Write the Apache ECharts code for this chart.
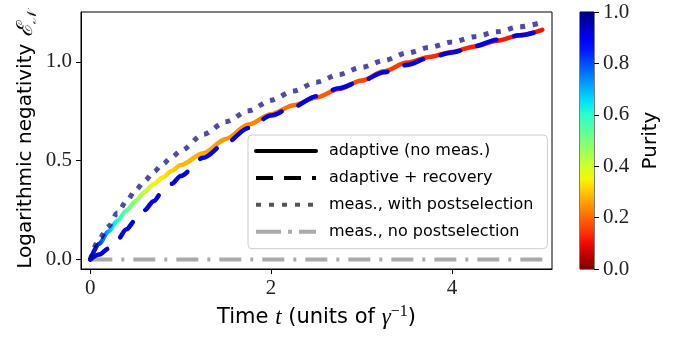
<!DOCTYPE html>
<html>
<head>
<meta charset="utf-8">
<script src="https://cdn.jsdelivr.net/npm/echarts@6/dist/echarts.min.js"></script>
<style>
  html, body { margin: 0; padding: 0; background: #fff; }
  #c { width: 690px; height: 338px; }
</style>
</head>
<body>
<div id="c"></div>
<script>
// time grid (units of 1/gamma)
const times = [0, 0.1, 0.2, 0.3, 0.4, 0.5, 0.6, 0.7, 0.8, 0.9, 1.0, 1.25, 1.5, 1.75,
  2.0, 2.25, 2.5, 2.75, 3.0, 3.25, 3.5, 3.75, 4.0, 4.25, 4.5, 4.75, 5.0];
// adaptive (no meas.)
const adaptive = [0, 0.08, 0.142, 0.196, 0.248, 0.295, 0.342, 0.382, 0.415, 0.448, 0.478, 0.538, 0.61, 0.683,
  0.735, 0.78, 0.82, 0.862, 0.905, 0.952, 0.996, 1.025, 1.05, 1.078, 1.107, 1.135, 1.162];
// purity along the adaptive curve (colour of the solid line)
const purity = [1.0, 0.85, 0.73, 0.63, 0.55, 0.49, 0.43, 0.38, 0.34, 0.31, 0.29, 0.27, 0.25, 0.235,
  0.22, 0.205, 0.19, 0.178, 0.165, 0.155, 0.145, 0.135, 0.127, 0.12, 0.115, 0.11, 0.105];
// adaptive + recovery
const recovery = [0, 0.025, 0.055, 0.1, 0.153, 0.2, 0.25, 0.295, 0.345, 0.383, 0.423, 0.515, 0.59, 0.665,
  0.728, 0.773, 0.826, 0.866, 0.903, 0.947, 0.984, 1.02, 1.047, 1.08, 1.112, 1.134, 1.16];
// meas., with postselection
const postsel = [0, 0.105, 0.167, 0.235, 0.295, 0.35, 0.397, 0.443, 0.483, 0.518, 0.55, 0.633, 0.697, 0.752,
  0.806, 0.853, 0.897, 0.936, 0.972, 1.007, 1.044, 1.073, 1.1, 1.127, 1.152, 1.177, 1.2];
// meas., no postselection
const noPostselTimes = [0, 5];
const noPostsel = [0, 0];

const xTicks = [0, 2, 4];
const yTicks = [0, 0.5, 1.0];
const legendNames = ['adaptive (no meas.)', 'adaptive + recovery', 'meas., with postselection', 'meas., no postselection'];

// matplotlib "jet"
function jet(v) {
  const seg = (pts) => {
    for (let i = 0; i < pts.length - 1; i++) {
      const [x0, y0] = pts[i], [x1, y1] = pts[i + 1];
      if (v <= x1) return y0 + (y1 - y0) * (v - x0) / (x1 - x0);
    }
    return pts[pts.length - 1][1];
  };
  const r = seg([[0, 0], [0.35, 0], [0.66, 1], [0.89, 1], [1, 0.5]]);
  const g = seg([[0, 0], [0.125, 0], [0.375, 1], [0.64, 1], [0.91, 0], [1, 0]]);
  const b = seg([[0, 0.5], [0.11, 1], [0.34, 1], [0.65, 0], [1, 0]]);
  return `rgb(${Math.round(r * 255)},${Math.round(g * 255)},${Math.round(b * 255)})`;
}
const jetR = (p) => jet(1 - p);

const tMax = times[times.length - 1];
const lineGrad = new echarts.graphic.LinearGradient(0, 0, 1, 0,
  times.map((t, i) => ({ offset: t / tMax, color: jetR(purity[i]) })));
const barStops = [];
for (let k = 0; k <= 20; k++) barStops.push({ offset: k / 20, color: jet(k / 20) });

const serif = 'Liberation Serif';
const sans = 'DejaVu Sans';
const pairs = (xs, ys) => xs.map((x, i) => [x, ys[i]]);
const noSymbol = { opacity: 0 };

const chart = echarts.init(document.getElementById('c'), null, { renderer: 'canvas' });
chart.setOption({
  animation: false,
  grid: [
    { left: 81, top: 12, width: 471, height: 257, show: true, borderColor: '#000', borderWidth: 1 },
    { left: 580, top: 12, width: 14, height: 257, show: true, borderColor: '#000', borderWidth: 1 },
  ],
  legend: {
    left: 248, top: 135, orient: 'vertical',
    padding: [8, 14, 9, 6], itemGap: 10.9, itemWidth: 60, itemHeight: 14,
    backgroundColor: 'rgba(255,255,255,0.8)', borderColor: '#cccccc', borderWidth: 1, borderRadius: 4,
    textStyle: { fontFamily: sans, fontSize: 16, color: '#000', padding: [0, 0, 0, 8] },
    data: [
      { name: legendNames[0], itemStyle: noSymbol, lineStyle: { color: '#000', width: 4, type: 'solid' } },
      { name: legendNames[1], itemStyle: noSymbol, lineStyle: { color: '#000', width: 4, type: [17, 11], cap: 'butt' } },
      { name: legendNames[2], itemStyle: noSymbol, lineStyle: { color: '#555', width: 4, type: [5, 8], cap: 'butt' } },
      { name: legendNames[3], itemStyle: noSymbol, lineStyle: { color: '#aaaaaa', width: 4, type: [25, 7, 4, 7], cap: 'butt' } },
    ],
  },
  xAxis: [
    {
      type: 'value', gridIndex: 0, min: -0.103, max: 5.107,
      name: '{a|Time }{i|t}{a| (units of }{i|γ}{s|−1}{a|)}',
      nameLocation: 'middle', nameGap: 32,
      nameTextStyle: {
        rich: {
          a: { fontFamily: sans, fontSize: 21, color: '#000', lineHeight: 28 },
          i: { fontFamily: serif, fontStyle: 'italic', fontSize: 23, color: '#000', lineHeight: 28 },
          s: { fontFamily: serif, fontSize: 16, color: '#000', lineHeight: 15, verticalAlign: 'top' },
        },
      },
      axisLine: { show: true, onZero: false, lineStyle: { color: '#000', width: 1 } },
      axisTick: { show: true, customValues: xTicks, length: 5, lineStyle: { color: '#000' } },
      axisLabel: { customValues: xTicks, formatter: (v) => String(v), fontFamily: serif, fontSize: 21, color: '#222', margin: 9 },
      splitLine: { show: false },
    },
    { type: 'category', gridIndex: 1, show: false, data: ['purity'] },
  ],
  yAxis: [
    {
      type: 'value', gridIndex: 0, min: -0.048, max: 1.252,
      name: '{a|Logarithmic negativity }{e|ℰ}{n|𝒩}',
      nameLocation: 'middle', nameGap: 42, nameRotate: 90, nameMoveOverlap: false,
      nameTextStyle: {
        rich: {
          a: { fontFamily: sans, fontSize: 20, color: '#000', lineHeight: 26 },
          e: { fontFamily: serif, fontStyle: 'italic', fontSize: 22, color: '#000', lineHeight: 26 },
          n: { fontFamily: serif, fontStyle: 'italic', fontSize: 13, color: '#000', lineHeight: 13, verticalAlign: 'bottom' },
        },
      },
      axisLine: { show: true, onZero: false, lineStyle: { color: '#000', width: 1 } },
      axisTick: { show: true, customValues: yTicks, length: 5, lineStyle: { color: '#000' } },
      axisLabel: { customValues: yTicks, formatter: (v) => v.toFixed(1), fontFamily: serif, fontSize: 21, color: '#222', margin: 9 },
      splitLine: { show: false },
    },
    {
      type: 'value', gridIndex: 1, position: 'right', min: 0, max: 1, interval: 0.2,
      name: 'Purity', nameLocation: 'middle', nameGap: 47, nameRotate: 90,
      nameTextStyle: { fontFamily: sans, fontSize: 20, color: '#000' },
      axisLine: { show: false },
      axisTick: { show: true, length: 5, lineStyle: { color: '#000' } },
      axisLabel: { formatter: (v) => v.toFixed(1), fontFamily: serif, fontSize: 21, color: '#222', margin: 9 },
      splitLine: { show: false },
    },
  ],
  series: [
    {
      name: legendNames[3], type: 'line', xAxisIndex: 0, yAxisIndex: 0, symbol: 'none', silent: true,
      data: pairs(noPostselTimes, noPostsel),
      lineStyle: { color: '#aaaaaa', width: 4, type: [22, 9, 3, 9], cap: 'butt' }, z: 2,
    },
    {
      name: legendNames[0], type: 'line', xAxisIndex: 0, yAxisIndex: 0, symbol: 'none', silent: true,
      smooth: 0.3, smoothMonotone: 'x',
      data: pairs(times, adaptive),
      lineStyle: { color: lineGrad, width: 4.5, cap: 'round' }, z: 3,
    },
    {
      name: legendNames[1], type: 'line', xAxisIndex: 0, yAxisIndex: 0, symbol: 'none', silent: true,
      smooth: 0.3, smoothMonotone: 'x',
      data: pairs(times, recovery),
      lineStyle: { color: '#0000e0', width: 4.5, type: [20, 18], cap: 'round' }, z: 4,
    },
    {
      name: legendNames[2], type: 'line', xAxisIndex: 0, yAxisIndex: 0, symbol: 'none', silent: true,
      smooth: 0.3, smoothMonotone: 'x',
      data: pairs(times, postsel),
      lineStyle: { color: 'rgba(0,0,128,0.7)', width: 5, type: [5, 7.5], cap: 'butt' }, z: 5,
    },
    {
      type: 'bar', xAxisIndex: 1, yAxisIndex: 1, silent: true, barWidth: '100%',
      data: [1],
      itemStyle: { color: new echarts.graphic.LinearGradient(0, 0, 0, 1, barStops) },
    },
  ],
});
</script>
</body>
</html>
